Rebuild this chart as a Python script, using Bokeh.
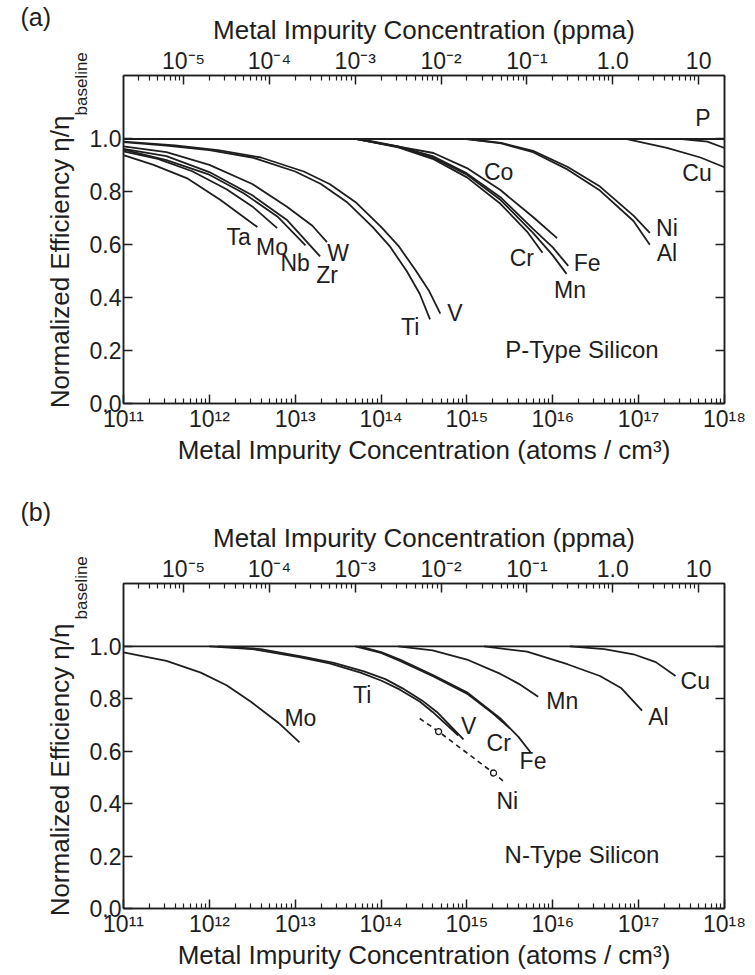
import numpy as np
from bokeh.plotting import figure
from bokeh.models import (Range1d, LogScale, LogAxis, LinearAxis, FixedTicker,
                          CustomJSTickFormatter, PrintfTickFormatter, Title)
from bokeh.layouts import column
from bokeh.embed import file_html
from bokeh.resources import INLINE
from bokeh.core.properties import value

FONT = "Liberation Sans"
INK = "#1e1e1e"

# ---------------- axes data ----------------
SI_ATOMS_PER_CM3 = 5e22
PPMA_PER_ATOM_CM3 = 1e6 / SI_ATOMS_PER_CM3
X_MIN, X_MAX = 1e11, 1e18
Y_MIN, Y_MAX = 0.0, 1.24

bottom_tick_values = [1e11, 1e12, 1e13, 1e14, 1e15, 1e16, 1e17, 1e18]
bottom_tick_labels = ["10\u00b9\u00b9", "10\u00b9\u00b2", "10\u00b9\u00b3", "10\u00b9\u2074",
                      "10\u00b9\u2075", "10\u00b9\u2076", "10\u00b9\u2077", "10\u00b9\u2078"]
top_tick_values = [1e-5, 1e-4, 1e-3, 1e-2, 1e-1, 1.0, 10.0]
top_tick_labels = ["10\u207b\u2075", "10\u207b\u2074", "10\u207b\u00b3", "10\u207b\u00b2",
                   "10\u207b\u00b9", "1.0", "10"]
y_tick_values = [0.0, 0.2, 0.4, 0.6, 0.8, 1.0]

top_title = "Metal Impurity Concentration (ppma)"
bottom_title = "Metal Impurity Concentration (atoms / cm\u00b3)"
y_title_main = "Normalized Efficiency \u03b7/\u03b7"
y_title_sub = "baseline"

# ---------------- panel (a): P-type (log10 concentration, efficiency) ----------------
a_flat_x = [11.0, 18.0]
a_flat_y = [1.0, 1.0]
a_ta_x = [11.0, 11.35, 11.75, 12.13, 12.56]
a_ta_y = [0.939, 0.902, 0.850, 0.769, 0.667]
a_mo_x = [11.0, 11.4, 11.8, 12.2, 12.5, 12.79]
a_mo_y = [0.953, 0.925, 0.878, 0.810, 0.745, 0.663]
a_nb_x = [11.0, 11.5, 12.0, 12.4, 12.8, 13.12]
a_nb_y = [0.960, 0.920, 0.865, 0.795, 0.705, 0.598]
a_zr_x = [11.0, 11.5, 12.0, 12.5, 12.9, 13.29]
a_zr_y = [0.963, 0.935, 0.875, 0.787, 0.695, 0.556]
a_w_x = [11.0, 11.5, 12.0, 12.5, 12.9, 13.2, 13.37]
a_w_y = [0.972, 0.950, 0.902, 0.830, 0.745, 0.672, 0.610]
a_ti_x = [11.0, 11.5, 12.0, 12.5, 13.0, 13.3, 13.6, 13.9, 14.1, 14.3, 14.45, 14.57]
a_ti_y = [0.988, 0.975, 0.958, 0.930, 0.877, 0.830, 0.762, 0.668, 0.595, 0.500, 0.415, 0.318]
a_v_x = [11.0, 11.6, 12.1, 12.6, 13.1, 13.4, 13.7, 14.0, 14.2, 14.4, 14.56, 14.69]
a_v_y = [0.990, 0.976, 0.958, 0.930, 0.877, 0.830, 0.762, 0.668, 0.597, 0.505, 0.425, 0.340]
a_co_x = [13.7, 14.22, 14.61, 15.0, 15.39, 15.77, 16.05]
a_co_y = [1.0, 0.970, 0.947, 0.890, 0.807, 0.705, 0.625]
a_cr_x = [13.7, 14.2, 14.6, 15.0, 15.39, 15.7, 15.88]
a_cr_y = [1.0, 0.968, 0.925, 0.855, 0.755, 0.650, 0.570]
a_fe_x = [13.75, 14.2, 14.6, 15.0, 15.39, 15.77, 16.0, 16.18]
a_fe_y = [1.0, 0.972, 0.935, 0.870, 0.780, 0.660, 0.590, 0.520]
a_mn_x = [13.7, 14.2, 14.6, 15.0, 15.39, 15.77, 16.0, 16.16]
a_mn_y = [1.0, 0.970, 0.930, 0.865, 0.770, 0.645, 0.560, 0.490]
a_ni_x = [15.0, 15.4, 15.77, 16.17, 16.55, 16.94, 17.13]
a_ni_y = [1.0, 0.985, 0.955, 0.895, 0.820, 0.710, 0.645]
a_al_x = [15.0, 15.4, 15.77, 16.17, 16.55, 16.94, 17.13]
a_al_y = [1.0, 0.983, 0.950, 0.885, 0.805, 0.690, 0.600]
a_cu_x = [16.85, 17.33, 17.72, 18.0]
a_cu_y = [1.0, 0.966, 0.930, 0.893]
a_p_x = [17.5, 17.8, 18.0]
a_p_y = [1.0, 0.990, 0.966]

a_label_text = ["P", "Cu", "Co", "Ni", "Al", "Cr", "Fe", "Mn", "V", "Ti",
                "Ta", "Mo", "Nb", "Zr", "W"]
a_label_x = [17.75, 17.68, 15.37, 17.33, 17.33, 15.64, 16.40, 16.20, 14.86, 14.34,
             12.34, 12.73, 13.00, 13.37, 13.50]
a_label_y = [1.08, 0.870, 0.875, 0.663, 0.568, 0.549, 0.530, 0.428, 0.341, 0.288,
             0.629, 0.591, 0.530, 0.485, 0.568]
a_material = "P-Type Silicon"

# ---------------- panel (b): N-type ----------------
b_flat_x = [11.0, 18.0]
b_flat_y = [1.0, 1.0]
b_mo_x = [11.0, 11.5, 11.9, 12.2, 12.48, 12.8, 13.05]
b_mo_y = [0.977, 0.945, 0.900, 0.852, 0.790, 0.710, 0.634]
b_ti_x = [12.0, 12.5, 13.06, 13.4, 13.76, 14.0, 14.22, 14.45, 14.6, 14.9]
b_ti_y = [1.0, 0.990, 0.958, 0.935, 0.900, 0.870, 0.835, 0.790, 0.750, 0.660]
b_v_x = [12.1, 12.6, 13.1, 13.45, 13.8, 14.05, 14.25, 14.48, 14.65, 14.96]
b_v_y = [1.0, 0.990, 0.960, 0.937, 0.905, 0.875, 0.840, 0.793, 0.750, 0.645]
b_cr_x = [13.7, 14.0, 14.22, 14.61, 15.0, 15.3, 15.5]
b_cr_y = [1.0, 0.975, 0.945, 0.885, 0.820, 0.745, 0.687]
b_fe_x = [13.75, 14.0, 14.22, 14.61, 15.0, 15.39, 15.6, 15.74]
b_fe_y = [1.0, 0.978, 0.950, 0.890, 0.825, 0.725, 0.655, 0.596]
b_mn_x = [14.2, 14.6, 15.0, 15.39, 15.6, 15.83]
b_mn_y = [1.0, 0.985, 0.950, 0.895, 0.858, 0.808]
b_al_x = [15.2, 15.7, 16.17, 16.55, 16.8, 17.04]
b_al_y = [1.0, 0.980, 0.932, 0.887, 0.840, 0.755]
b_cu_x = [16.2, 16.6, 16.94, 17.2, 17.43]
b_cu_y = [1.0, 0.990, 0.970, 0.940, 0.887]
b_ni_x = [14.45, 14.67, 15.31, 15.42]
b_ni_y = [0.725, 0.675, 0.517, 0.487]
b_ni_mark_x = [14.67, 15.31]
b_ni_mark_y = [0.675, 0.517]

b_label_text = ["Mo", "Ti", "V", "Cr", "Fe", "Ni", "Mn", "Al", "Cu"]
b_label_x = [13.06, 13.78, 15.02, 15.37, 15.77, 15.47, 16.11, 17.23, 17.66]
b_label_y = [0.725, 0.815, 0.698, 0.632, 0.562, 0.411, 0.792, 0.732, 0.868]
b_material = "N-Type Silicon"

MATERIAL_POS = (16.34, 0.205)

a_curves = [(a_flat_x, a_flat_y), (a_ta_x, a_ta_y), (a_mo_x, a_mo_y), (a_nb_x, a_nb_y),
            (a_zr_x, a_zr_y), (a_w_x, a_w_y), (a_ti_x, a_ti_y), (a_v_x, a_v_y),
            (a_co_x, a_co_y), (a_cr_x, a_cr_y), (a_fe_x, a_fe_y), (a_mn_x, a_mn_y),
            (a_ni_x, a_ni_y), (a_al_x, a_al_y), (a_cu_x, a_cu_y), (a_p_x, a_p_y)]
b_curves = [(b_flat_x, b_flat_y), (b_mo_x, b_mo_y), (b_ti_x, b_ti_y), (b_v_x, b_v_y),
            (b_cr_x, b_cr_y), (b_fe_x, b_fe_y), (b_mn_x, b_mn_y), (b_al_x, b_al_y),
            (b_cu_x, b_cu_y)]

FIG_W = 747
BORDER_L = 123
BORDER_R = 23


def tick_formatter(values, labels):
    return CustomJSTickFormatter(args=dict(tv=values, tl=labels), code="""
        for (let i = 0; i < tv.length; i++) {
            if (Math.abs(Math.log10(tick) - Math.log10(tv[i])) < 1e-6) { return tl[i]; }
        }
        return "";
    """)


def style_axis(ax, label_size="23px", title_size="26px"):
    ax.axis_line_color = INK
    ax.axis_line_width = 1.5
    ax.major_tick_line_color = INK
    ax.major_tick_line_width = 1.5
    ax.minor_tick_line_color = INK
    ax.minor_tick_line_width = 1.2
    ax.major_tick_in = 9
    ax.major_tick_out = 0
    ax.minor_tick_in = 5
    ax.minor_tick_out = 0
    ax.major_label_text_font = FONT
    ax.major_label_text_font_size = label_size
    ax.major_label_text_color = INK
    ax.axis_label_text_font = FONT
    ax.axis_label_text_font_size = title_size
    ax.axis_label_text_font_style = "normal"
    ax.axis_label_text_color = INK


def make_panel(height, top_border, bottom_border, curves, labels, material,
               letter, letter_valign, letter_standoff, dashed=None, marks=None):
    lx, ly, lt = labels
    frame_h = height - top_border - bottom_border
    p = figure(width=FIG_W, height=height, x_axis_type="log",
               x_range=Range1d(X_MIN, X_MAX), y_range=Range1d(Y_MIN, Y_MAX),
               output_backend="svg", toolbar_location=None,
               min_border_left=BORDER_L, min_border_right=BORDER_R,
               min_border_top=top_border, min_border_bottom=bottom_border)
    p.background_fill_color = "white"
    p.border_fill_color = "white"
    p.grid.visible = False
    p.outline_line_color = INK
    p.outline_line_width = 1.5

    # panel letter as the plot title, pulled to the top-left corner
    p.title.text = letter
    p.title.align = "left"
    p.title.offset = 20 - BORDER_L
    p.title.vertical_align = letter_valign
    p.title.standoff = letter_standoff
    p.title.text_font = FONT
    p.title.text_font_size = "25px"
    p.title.text_font_style = "normal"
    p.title.text_color = INK

    bottom_minor = [m * 10.0 ** e for e in range(11, 18) for m in range(2, 10)]
    xa = p.xaxis[0]
    xa.ticker = FixedTicker(ticks=bottom_tick_values, minor_ticks=bottom_minor)
    xa.formatter = tick_formatter(bottom_tick_values, bottom_tick_labels)
    xa.axis_label = bottom_title
    style_axis(xa)
    xa.major_label_standoff = 2
    xa.axis_label_standoff = 0

    ya = p.yaxis[0]
    ya.ticker = FixedTicker(ticks=y_tick_values)
    ya.formatter = PrintfTickFormatter(format="%.1f")
    style_axis(ya)
    ya.minor_tick_line_color = None
    ya.major_label_standoff = 2

    # y title: "Normalized Efficiency η/η" with a "baseline" subscript
    sub = Title(text=y_title_sub, align="left", offset=frame_h - 40,
                text_font=FONT, text_font_size="17px", text_font_style="normal",
                text_color=INK, standoff=-9)
    p.add_layout(sub, "left")
    main = Title(text=y_title_main, align="right", offset=40,
                 text_font=FONT, text_font_size="26px", text_font_style="normal",
                 text_color=INK, standoff=0)
    p.add_layout(main, "left")

    ppma_lo, ppma_hi = X_MIN * PPMA_PER_ATOM_CM3, X_MAX * PPMA_PER_ATOM_CM3
    p.extra_x_ranges = {"ppma": Range1d(ppma_lo, ppma_hi)}
    p.extra_x_scales = {"ppma": LogScale()}
    top_minor = [m * 10.0 ** e for e in range(-6, 2) for m in range(2, 10)
                 if ppma_lo <= m * 10.0 ** e <= ppma_hi]
    ta = LogAxis(x_range_name="ppma",
                 ticker=FixedTicker(ticks=top_tick_values, minor_ticks=top_minor),
                 formatter=tick_formatter(top_tick_values, top_tick_labels),
                 axis_label=top_title)
    style_axis(ta)
    ta.major_label_standoff = 2
    ta.axis_label_standoff = 0
    p.add_layout(ta, "above")

    ra = LinearAxis(ticker=FixedTicker(ticks=y_tick_values))
    style_axis(ra)
    ra.minor_tick_line_color = None
    ra.major_label_text_color = None
    ra.major_label_text_font_size = "0px"
    ra.major_label_standoff = 0
    p.add_layout(ra, "right")

    for xs, ys in curves:
        p.line(x=10.0 ** np.array(xs), y=ys, line_color=INK, line_width=1.8)
    if dashed is not None:
        dx, dy = dashed
        p.line(x=10.0 ** np.array(dx), y=dy, line_color=INK, line_width=1.6,
               line_dash="5 4")
    if marks is not None:
        mx, my = marks
        p.scatter(x=10.0 ** np.array(mx), y=my, marker="circle", size=6,
                  fill_color="white", line_color=INK, line_width=1.3)

    p.text(x=10.0 ** np.array(lx), y=ly, text=lt, text_font=value(FONT),
           text_font_size="23px", text_color=INK, text_align="center",
           text_baseline="middle")
    p.text(x=[10.0 ** MATERIAL_POS[0]], y=[MATERIAL_POS[1]], text=[material],
           text_font=value(FONT), text_font_size="24px", text_color=INK,
           text_align="center", text_baseline="middle")
    return p


A_H, A_TOP, A_BOT = 475, 75, 72
B_H, B_TOP, B_BOT = 497, 108, 60

pa = make_panel(A_H, A_TOP, A_BOT, a_curves, (a_label_x, a_label_y, a_label_text),
                a_material, "(a)", "bottom", -38)
pb = make_panel(B_H, B_TOP, B_BOT, b_curves, (b_label_x, b_label_y, b_label_text),
                b_material, "(b)", "middle", -14,
                dashed=(b_ni_x, b_ni_y), marks=(b_ni_mark_x, b_ni_mark_y))

layout = column(pa, pb)
open("out.html", "w").write(file_html(layout, INLINE))
